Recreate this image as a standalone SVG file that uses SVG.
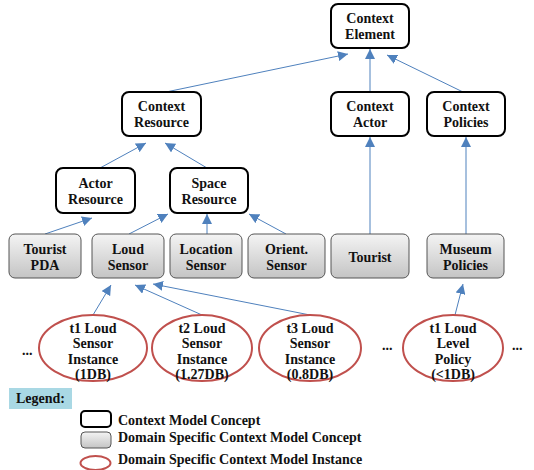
<svg xmlns="http://www.w3.org/2000/svg" width="534" height="470" viewBox="0 0 534 470">
<defs>
<linearGradient id="gray" x1="0" y1="0" x2="0" y2="1">
<stop offset="0" stop-color="#f4f4f4"/>
<stop offset="1" stop-color="#c4c4c4"/>
</linearGradient>
<marker id="arr" markerUnits="userSpaceOnUse" markerWidth="12" markerHeight="10" refX="10" refY="5" orient="auto">
<path d="M0,0 L10,5 L0,10 Z" fill="#4f81bd"/>
</marker>
<style>
text{font-family:"Liberation Serif","Times New Roman",serif;font-weight:bold;font-size:14px;fill:#111;}
.c{text-anchor:middle;}
.concept{fill:#fff;stroke:#000;stroke-width:2;}
.domain{fill:url(#gray);stroke:#555;stroke-width:1;}
.inst{fill:#fff;stroke:#c0504d;stroke-width:2;}
.conn line{stroke:#4f81bd;stroke-width:1;marker-end:url(#arr);}
</style>
</defs>
<rect width="534" height="470" fill="#fff"/>

<g class="conn" id="connectors">
<line x1="166" y1="92" x2="348" y2="54"/>
<line x1="370" y1="92" x2="370" y2="49"/>
<line x1="463" y1="92" x2="387" y2="55"/>
<line x1="100" y1="168" x2="146" y2="143"/>
<line x1="207" y1="168" x2="165" y2="143"/>
<line x1="45" y1="234" x2="92" y2="218"/>
<line x1="129" y1="234" x2="168" y2="214"/>
<line x1="207" y1="234" x2="207" y2="214"/>
<line x1="286" y1="234" x2="249" y2="214"/>
<line x1="370" y1="234" x2="370" y2="137"/>
<line x1="466" y1="234" x2="466" y2="137"/>
<line x1="93" y1="315" x2="111" y2="285"/>
<line x1="202" y1="315" x2="135" y2="285"/>
<line x1="310" y1="315" x2="153" y2="284"/>
<line x1="455" y1="315" x2="463" y2="284"/>
</g>

<g id="context-element"><rect class="concept" x="331" y="4" width="78" height="44" rx="7"/><text class="c" x="370" y="23">Context</text><text class="c" x="370" y="39">Element</text></g>
<g id="context-resource"><rect class="concept" x="122" y="92" width="79" height="44" rx="7"/><text class="c" x="161.5" y="111">Context</text><text class="c" x="161.5" y="127">Resource</text></g>
<g id="context-actor"><rect class="concept" x="331" y="92" width="78" height="44" rx="7"/><text class="c" x="370" y="111">Context</text><text class="c" x="370" y="127">Actor</text></g>
<g id="context-policies"><rect class="concept" x="427" y="92" width="78" height="44" rx="7"/><text class="c" x="466" y="111">Context</text><text class="c" x="466" y="127">Policies</text></g>
<g id="actor-resource"><rect class="concept" x="56" y="168" width="79" height="45" rx="7"/><text class="c" x="95.5" y="188">Actor</text><text class="c" x="95.5" y="204">Resource</text></g>
<g id="space-resource"><rect class="concept" x="170" y="168" width="78" height="45" rx="7"/><text class="c" x="209" y="188">Space</text><text class="c" x="209" y="204">Resource</text></g>

<g id="tourist-pda"><rect class="domain" x="9" y="234" width="72" height="44" rx="6"/><text class="c" x="45" y="254">Tourist</text><text class="c" x="45" y="270">PDA</text></g>
<g id="loud-sensor"><rect class="domain" x="92" y="234" width="72" height="44" rx="6"/><text class="c" x="128" y="254">Loud</text><text class="c" x="128" y="270">Sensor</text></g>
<g id="location-sensor"><rect class="domain" x="170" y="234" width="72" height="44" rx="6"/><text class="c" x="206" y="254">Location</text><text class="c" x="206" y="270">Sensor</text></g>
<g id="orient-sensor"><rect class="domain" x="248" y="234" width="77" height="44" rx="6"/><text class="c" x="286.5" y="254">Orient.</text><text class="c" x="286.5" y="270">Sensor</text></g>
<g id="tourist"><rect class="domain" x="331" y="234" width="78" height="44" rx="6"/><text class="c" x="370" y="262">Tourist</text></g>
<g id="museum-policies"><rect class="domain" x="427" y="234" width="77" height="44" rx="6"/><text class="c" x="465.5" y="254">Museum</text><text class="c" x="465.5" y="270">Policies</text></g>

<g id="t1-loud"><ellipse class="inst" cx="93" cy="348" rx="54" ry="33"/><text class="c" x="93" y="333">t1 Loud</text><text class="c" x="93" y="348">Sensor</text><text class="c" x="93" y="364">Instance</text><text class="c" x="93" y="379">(1DB)</text></g>
<g id="t2-loud"><ellipse class="inst" cx="202" cy="348" rx="50" ry="33"/><text class="c" x="202" y="333">t2 Loud</text><text class="c" x="202" y="348">Sensor</text><text class="c" x="202" y="364">Instance</text><text class="c" x="202" y="379">(1.27DB)</text></g>
<g id="t3-loud"><ellipse class="inst" cx="310" cy="348" rx="51" ry="33"/><text class="c" x="310" y="333">t3 Loud</text><text class="c" x="310" y="348">Sensor</text><text class="c" x="310" y="364">Instance</text><text class="c" x="310" y="379">(0.8DB)</text></g>
<g id="t1-policy"><ellipse class="inst" cx="453" cy="348" rx="50" ry="33"/><text class="c" x="453" y="333">t1 Loud</text><text class="c" x="453" y="348">Level</text><text class="c" x="453" y="364">Policy</text><text class="c" x="453" y="379">(&lt;1DB)</text></g>

<text x="22" y="355">...</text>
<text x="382" y="350">...</text>
<text x="512" y="350">...</text>

<g id="legend">
<rect x="9" y="388" width="63" height="21" fill="#a9d8e4"/>
<text x="16" y="403">Legend:</text>
<rect class="concept" x="81" y="411" width="30" height="16" rx="4"/>
<text x="118" y="425">Context Model Concept</text>
<rect class="domain" x="81" y="432" width="30" height="16" rx="4"/>
<text x="118" y="442">Domain Specific Context Model Concept</text>
<ellipse class="inst" cx="95.5" cy="463" rx="15" ry="7"/>
<text x="118" y="464">Domain Specific Context Model Instance</text>
</g>
</svg>
